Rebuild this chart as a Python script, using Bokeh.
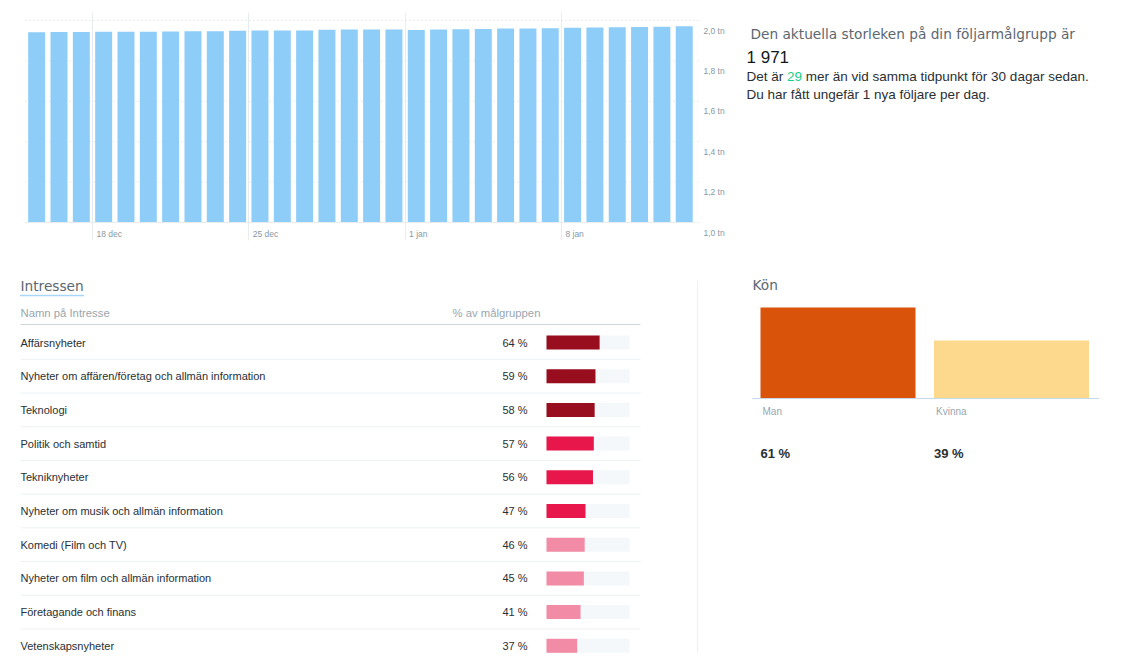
from bokeh.plotting import figure
from bokeh.models import Range1d, FixedTicker, ColumnDataSource
from bokeh.layouts import row, column
from bokeh.embed import file_html
from bokeh.resources import INLINE
from bokeh.core.properties import value

# ---------------- data ----------------
days = ["15 dec", "16 dec", "17 dec", "18 dec", "19 dec", "20 dec", "21 dec", "22 dec",
        "23 dec", "24 dec", "25 dec", "26 dec", "27 dec", "28 dec", "29 dec", "30 dec",
        "31 dec", "1 jan", "2 jan", "3 jan", "4 jan", "5 jan", "6 jan", "7 jan",
        "8 jan", "9 jan", "10 jan", "11 jan", "12 jan", "13 jan"]
followers = [1942, 1943, 1943, 1944, 1944, 1944, 1946, 1947, 1947, 1949,
             1951, 1951, 1951, 1954, 1955, 1955, 1955, 1953, 1956, 1957,
             1958, 1960, 1961, 1962, 1964, 1965, 1966, 1968, 1969, 1971]
date_ticks = ["18 dec", "25 dec", "1 jan", "8 jan"]
y_ticks = [1000, 1200, 1400, 1600, 1800, 2000]
y_tick_labels = ["1,0 tn", "1,2 tn", "1,4 tn", "1,6 tn", "1,8 tn", "2,0 tn"]

interests = ["Affärsnyheter",
             "Nyheter om affären/företag och allmän information",
             "Teknologi",
             "Politik och samtid",
             "Tekniknyheter",
             "Nyheter om musik och allmän information",
             "Komedi (Film och TV)",
             "Nyheter om film och allmän information",
             "Företagande och finans",
             "Vetenskapsnyheter"]
interest_pct = [64, 59, 58, 57, 56, 47, 46, 45, 41, 37]

genders = ["Man", "Kvinna"]
gender_pct = [61, 39]

# ---------------- styles ----------------
FONT = value("Liberation Sans")
HFONT = value("DejaVu Sans")
DARK = "#292f33"
GRAY = "#5c6770"
LIGHT = "#99a6b0"
TICK = "#8899a6"
BLUE_BAR = "#8dcdf8"
tier_colors = ["#990e1e"] * 3 + ["#e8174b"] * 3 + ["#f28ba5"] * 4
gender_colors = ["#d9530a", "#fdd98d"]


def clean(p):
    p.outline_line_color = None
    p.background_fill_color = "white"
    p.border_fill_color = "white"


# ---------------- top: follower bars ----------------
DAY_PX = 22.33
DAY0 = 25          # screen x of first day boundary
VAL_PX = 0.202     # px per follower
TOP_B, FRAME_H, BOT_B = 12, 228, 18
xs = (22 - DAY0) / DAY_PX
xe = (740 - DAY0) / DAY_PX
ys = 1000 - 18 / VAL_PX
ye = 2000 + 8 / VAL_PX
p_top = figure(frame_width=718, frame_height=FRAME_H,
               x_range=Range1d(xs, xe), y_range=Range1d(ys, ye),
               min_border_left=22, min_border_right=0, min_border_top=TOP_B,
               min_border_bottom=BOT_B, toolbar_location=None,
               output_backend="svg", x_axis_location=None, y_axis_location=None)
clean(p_top)
ndays = len(days)
idx = list(range(ndays))
tick_pos = [days.index(d) for d in date_ticks]
p_top.ygrid.visible = False
p_top.xgrid.ticker = FixedTicker(ticks=tick_pos)
p_top.xgrid.grid_line_color = "#e6ecf0"
# horizontal value guides (only across the bar area)
p_top.segment(x0=[0] * len(y_ticks), y0=y_ticks, x1=[ndays + 0.2] * len(y_ticks), y1=y_ticks,
              line_color="#d5dde3", line_width=1, line_dash="1 3")
src = ColumnDataSource(dict(x=[i + 0.5 for i in idx], top=followers, day=days))
p_top.vbar(x="x", top="top", bottom=y_ticks[0], width=0.76, source=src,
           fill_color=BLUE_BAR, line_color=None)
p_top.segment(x0=[0], y0=[y_ticks[0]], x1=[ndays], y1=[y_ticks[0]], line_color="#e6ecf0", line_width=1)
p_top.text(x=tick_pos, y=[y_ticks[0]] * len(tick_pos), text=date_ticks, x_offset=4, y_offset=11,
           text_font=FONT, text_font_size="8.5px", text_color=TICK,
           text_align="left", text_baseline="middle")
p_top.text(x=[ndays] * len(y_ticks), y=y_ticks, text=y_tick_labels, x_offset=8, y_offset=10,
           text_font=FONT, text_font_size="8.5px", text_color=TICK,
           text_align="left", text_baseline="middle")

# ---------------- top right: summary text ----------------
# same vertical frame as the chart beside it; y range expressed in screen px from the top
p_info = figure(frame_width=384, frame_height=FRAME_H, x_range=Range1d(0, 384),
                y_range=Range1d(TOP_B + FRAME_H, TOP_B),
                min_border_left=0, min_border_right=0, min_border_top=TOP_B,
                min_border_bottom=BOT_B, toolbar_location=None, output_backend="svg",
                x_axis_location=None, y_axis_location=None)
clean(p_info)
p_info.grid.visible = False
current = followers[-1]
diff = followers[-1] - followers[0]
per_day = round(diff / len(followers))
p_info.text(x=[10], y=[33], text=["Den aktuella storleken på din följarmålgrupp är"],
            text_font=HFONT, text_font_size="13.7px", text_color=GRAY, text_baseline="middle")
p_info.text(x=[6], y=[57], text=[f"{current:,}".replace(",", " ")],
            text_font=FONT, text_font_size="17px", text_color="#14171a", text_baseline="middle")
FS = 13.5
p_info.text(x=[6], y=[76], text=["Det är"], text_font=FONT, text_font_size=f"{FS}px",
            text_color=DARK, text_baseline="middle")
p_info.text(x=[6 + 3.001 * FS], y=[76], text=[str(diff)], text_font=FONT, text_font_size=f"{FS}px",
            text_color="#19cf86", text_baseline="middle")
p_info.text(x=[6 + (3.001 + 1.112 + 0.278) * FS], y=[76],
            text=[f"mer än vid samma tidpunkt för {len(followers)} dagar sedan."],
            text_font=FONT, text_font_size=f"{FS}px", text_color=DARK, text_baseline="middle")
p_info.text(x=[6], y=[94], text=[f"Du har fått ungefär {per_day} nya följare per dag."],
            text_font=FONT, text_font_size=f"{FS}px", text_color=DARK, text_baseline="middle")

# ---------------- bottom left: interests ----------------
PCT_PX = 0.83
ROW_PX = 33.7
ix_start = -546 / PCT_PX
ix_end = (698 - 546) / PCT_PX
iy_top = -84 / ROW_PX
iy_bot = (395 - 84) / ROW_PX
p_int = figure(width=698, height=395, x_range=Range1d(ix_start, ix_end),
               y_range=Range1d(iy_bot, iy_top), min_border=0, toolbar_location=None,
               output_backend="svg", x_axis_location=None, y_axis_location=None)
clean(p_int)
p_int.grid.visible = False


def ix(px):
    return ix_start + px / PCT_PX


def iy(px):
    return iy_top + px / ROW_PX


n = len(interests)
rows = list(range(n))
isrc = ColumnDataSource(dict(y=rows, name=interests, pct=interest_pct,
                             lbl=[f"{v} %" for v in interest_pct], color=tier_colors,
                             full=[100] * n))
p_int.text(x=[ix(20)], y=[iy(27)], text=["Intressen"], text_font=HFONT, text_font_size="13.7px",
           text_color=GRAY, text_baseline="middle")
p_int.segment(x0=[ix(20)], y0=[iy(37)], x1=[ix(83)], y1=[iy(37)], line_color="#55acee",
              line_width=1.3, line_dash="1 1")
p_int.text(x=[ix(20)], y=[iy(54)], text=["Namn på Intresse"], text_font=FONT,
           text_font_size="11.3px", text_color=LIGHT, text_baseline="middle")
p_int.text(x=[ix(452)], y=[iy(54)], text=["% av målgruppen"], text_font=FONT,
           text_font_size="11.3px", text_color=LIGHT, text_baseline="middle")
p_int.segment(x0=[ix(20)], y0=[iy(66)], x1=[ix(640)], y1=[iy(66)], line_color="#ccd6dd", line_width=1)
sep = [i + 0.5 for i in rows[:-1]]
p_int.segment(x0=[ix(20)] * len(sep), y0=sep, x1=[ix(640)] * len(sep), y1=sep,
              line_color="#edf1f4", line_width=1)
p_int.segment(x0=[ix(697)], y0=[iy(22)], x1=[ix(697)], y1=[iy(395)], line_color="#edf1f4", line_width=1)
p_int.hbar(y="y", left=0, right="full", height=0.415, source=isrc, fill_color="#f5f8fa", line_color=None)
p_int.hbar(y="y", left=0, right="pct", height=0.415, source=isrc, fill_color="color", line_color=None)
p_int.text(x=ix(20), y="y", text="name", source=isrc, text_font=FONT, text_font_size="11px",
           text_color=DARK, text_baseline="middle")
p_int.text(x=0, y="y", text="lbl", source=isrc, x_offset=-19, text_font=FONT, text_font_size="11px",
           text_color=DARK, text_baseline="middle", text_align="right")

# ---------------- bottom right: gender ----------------
G_PX = 173.5
P_PX = 1.49
kx_start = -139.5 / G_PX
kx_end = kx_start + 426 / G_PX
ky_end = 140 / P_PX
ky_start = -(395 - 140) / P_PX
p_kon = figure(width=426, height=395, x_range=Range1d(kx_start, kx_end),
               y_range=Range1d(ky_start, ky_end), min_border=0, toolbar_location=None,
               output_backend="svg", x_axis_location=None, y_axis_location=None)
clean(p_kon)
p_kon.grid.visible = False
bw = 155 / G_PX
gx = list(range(len(genders)))
gsrc = ColumnDataSource(dict(x=gx, top=gender_pct, name=genders, color=gender_colors,
                             left=[g - bw / 2 for g in gx], lbl=[f"{v} %" for v in gender_pct]))
p_kon.text(x=[kx_start + 54 / G_PX], y=[ky_end], y_offset=26, text=["Kön"], text_font=HFONT,
           text_font_size="13.7px", text_color=GRAY, text_baseline="middle")
p_kon.vbar(x="x", top="top", bottom=0, width=bw, source=gsrc, fill_color="color", line_color=None)
p_kon.segment(x0=[-bw / 2 - 8 / G_PX], y0=[0], x1=[gx[-1] + bw / 2 + 10 / G_PX], y1=[0],
              line_color="#c5d9e8", line_width=1.2)
p_kon.text(x="left", y=0, y_offset=13, text="name", source=gsrc, x_offset=2, text_font=FONT,
           text_font_size="10px", text_color=LIGHT, text_baseline="middle")
p_kon.text(x="left", y=0, y_offset=55, text="lbl", source=gsrc, text_font=FONT,
           text_font_size="13px", text_font_style="bold", text_color=DARK, text_baseline="middle")

layout = column(row(p_top, p_info, spacing=0), row(p_int, p_kon, spacing=0), spacing=0)
open("out.html", "w").write(file_html(layout, INLINE))
